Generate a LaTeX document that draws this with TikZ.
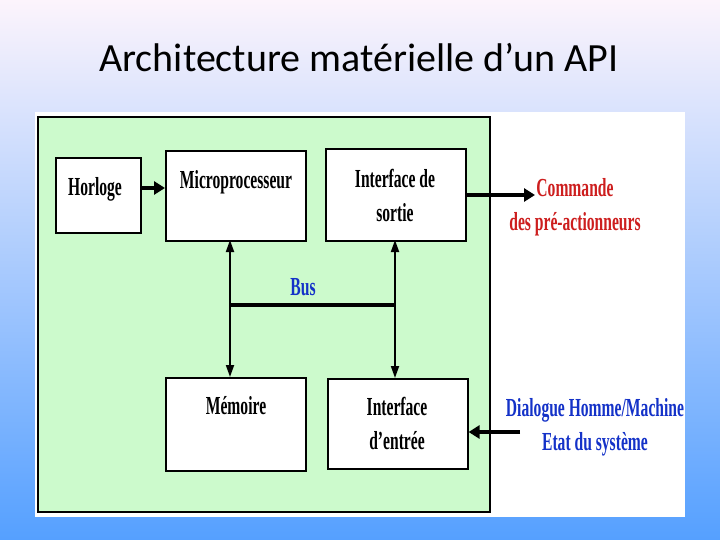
\documentclass[tikz,border=0pt]{standalone}
\usepackage{fontspec}
\newfontfamily\cond{Liberation Serif}[FakeStretch=0.6]
\newfontfamily\titlefont{Carlito}
\usetikzlibrary{arrows.meta}
\definecolor{bgtop}{RGB}{252,244,252}
\definecolor{bgbot}{RGB}{85,160,255}
\definecolor{grn}{RGB}{204,250,204}
\definecolor{rd}{RGB}{205,30,30}
\definecolor{bl}{RGB}{20,50,200}
\tikzset{
  blk/.style={draw=black,line width=1.6pt,fill=white,anchor=north west,inner sep=0pt},
  lbl/.style={font=\cond\bfseries\fontsize{26}{34}\selectfont,align=center,inner sep=0pt},
  thick arr/.style={line width=3.5pt,-{Triangle[length=11pt,width=13pt]}},
  dbl/.style={line width=1.8pt,{Triangle[length=12pt,width=8pt]}-{Triangle[length=12pt,width=8pt]}}
}
\begin{document}
\begin{tikzpicture}[x=1pt,y=-1pt]
\useasboundingbox (0,0) rectangle (720,540);
\shade[top color=bgtop,bottom color=bgbot] (0,0) rectangle (720,540);
\node[font=\titlefont\fontsize{40}{46}\selectfont] (title) at (359,58) {Architecture matérielle d’un API};
\fill[white] (35,112) rectangle (685,517);
\filldraw[fill=grn,draw=black,line width=1.2pt] (38,117) rectangle (490,512);
\node[blk,minimum width=85,minimum height=75] (h) at (55,157) {};
\node[blk,minimum width=140,minimum height=90] (m) at (165,150) {};
\node[blk,minimum width=140,minimum height=92] (s) at (325,148) {};
\node[blk,minimum width=140,minimum height=93] (me) at (165,377) {};
\node[blk,minimum width=140,minimum height=90] (e) at (327,378) {};
\node[lbl] (th) at (95,189) {Horloge};
\node[lbl] (tm) at (236,182) {Microprocesseur};
\node[lbl] (ts) at (395,195) {Interface de\\sortie};
\node[lbl] (tme) at (236,406) {Mémoire};
\node[lbl] (te) at (397,423) {Interface\\d’entrée};
\node[lbl,text=bl] (bus) at (303,287) {Bus};
\node[lbl,text=rd] (cmd) at (575,207) {Commande\\des pré-actionneurs};
\node[lbl,text=bl] (dia) at (595,427) {Dialogue Homme/Machine\\Etat du système};
\coordinate (b1) at (230,305);
\coordinate (b2) at (395,305);
\draw[line width=3.5pt] (b1) -- (b2);
\draw[dbl] (230,240) -- (230,377);
\draw[dbl] (395,240) -- (395,378);
\draw[thick arr] (h.east |- 0,188) -- (m.west |- 0,188);
\draw[thick arr] (s.east |- 0,195) -- (535,195);
\coordinate (din) at (520,432);
\draw[thick arr] (din) -- (e.east |- din);
\end{tikzpicture}
\end{document}
